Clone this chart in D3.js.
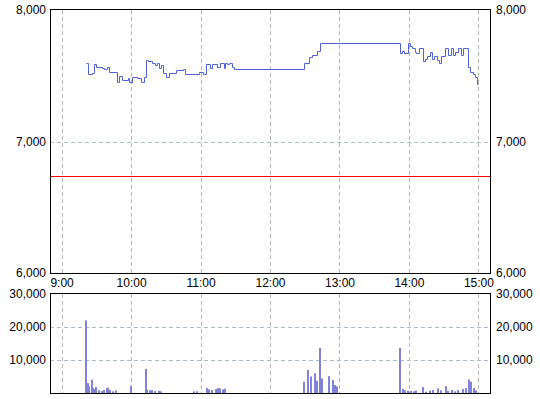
<!DOCTYPE html>
<html>
<head>
<meta charset="utf-8">
<script src="https://cdn.jsdelivr.net/npm/d3@7"></script>
<style>
  html, body { margin: 0; padding: 0; background: #fff; }
  svg { display: block; font-family: "Liberation Sans", Arial, sans-serif; }
</style>
</head>
<body>
<div id="chart"></div>
<script>
// --- data ---
const hourTicks = ["9:00", "10:00", "11:00", "12:00", "13:00", "14:00", "15:00"];
const priceTicks = [6000, 7000, 8000];
const volumeTicks = [10000, 20000, 30000];
const prevClose = 6740;

// [time, price] — step line, each price holds until the next time
const priceSteps = [
  ["9:21", 7600], ["9:23", 7510], ["9:26", 7520], ["9:28", 7590], ["9:30", 7570],
  ["9:35", 7560], ["9:37", 7550], ["9:39", 7570], ["9:41", 7530], ["9:48", 7450],
  ["9:50", 7500], ["9:52", 7470], ["9:57", 7480], ["9:58", 7450], ["10:01", 7490],
  ["10:05", 7480], ["10:09", 7450], ["10:11", 7490], ["10:13", 7620], ["10:15", 7610],
  ["10:18", 7600], ["10:21", 7580], ["10:22", 7600], ["10:24", 7560], ["10:26", 7580],
  ["10:28", 7520], ["10:30", 7490], ["10:33", 7520], ["10:39", 7540], ["10:45", 7550],
  ["10:47", 7510], ["10:59", 7530], ["11:02", 7510], ["11:05", 7590], ["11:08", 7560],
  ["11:10", 7590], ["11:14", 7570], ["11:17", 7600], ["11:20", 7560], ["11:21", 7600],
  ["11:23", 7590], ["11:25", 7600], ["11:27", 7570], ["11:29", 7550], ["12:29", 7600],
  ["12:34", 7640], ["12:36", 7660], ["12:41", 7690], ["12:43", 7750], ["13:52", 7670],
  ["13:54", 7690], ["13:56", 7670], ["13:59", 7750], ["14:01", 7730], ["14:03", 7710],
  ["14:05", 7680], ["14:06", 7670], ["14:09", 7710], ["14:12", 7610], ["14:14", 7630],
  ["14:16", 7650], ["14:18", 7680], ["14:20", 7630], ["14:22", 7650], ["14:24", 7620],
  ["14:26", 7600], ["14:28", 7650], ["14:31", 7710], ["14:34", 7660], ["14:36", 7710],
  ["14:38", 7660], ["14:40", 7680], ["14:42", 7710], ["14:45", 7660], ["14:47", 7710],
  ["14:51", 7570], ["14:53", 7530], ["14:55", 7510], ["14:57", 7490], ["14:59", 7440],
  ["15:00", 7440]
];

// [time, volume]
const volumes = [
  ["9:21", 22000], ["9:23", 3000], ["9:24", 2000], ["9:26", 4000], ["9:27", 1500],
  ["9:28", 1200], ["9:30", 1800], ["9:32", 800], ["9:35", 600], ["9:37", 900],
  ["9:39", 1500], ["9:40", 1600], ["9:42", 900], ["9:44", 500], ["9:47", 800],
  ["10:00", 2100], ["10:13", 7300], ["10:14", 1000], ["10:16", 800], ["10:18", 900],
  ["10:21", 600], ["10:24", 700], ["10:26", 500], ["10:54", 500], ["10:57", 500],
  ["11:06", 1500], ["11:07", 1100], ["11:10", 900], ["11:13", 1200], ["11:15", 1500],
  ["11:17", 1400], ["11:19", 1100], ["11:21", 1300],
  ["12:29", 3400], ["12:33", 7000], ["12:35", 5000], ["12:39", 6000], ["12:41", 3700],
  ["12:43", 13700], ["12:45", 4400], ["12:51", 5100], ["12:54", 3900], ["12:56", 2400],
  ["12:58", 2000],
  ["13:52", 13700], ["13:55", 1200], ["13:57", 800], ["13:59", 700], ["14:02", 600],
  ["14:04", 500], ["14:06", 700], ["14:12", 1800], ["14:15", 400], ["14:18", 700],
  ["14:21", 900], ["14:25", 1400], ["14:28", 800], ["14:32", 2100], ["14:34", 600],
  ["14:37", 900], ["14:40", 500], ["14:42", 900], ["14:47", 1200], ["14:49", 1500],
  ["14:52", 4100], ["14:54", 3400], ["14:56", 1500], ["14:58", 800]
];

const toMin = s => { const [h, m] = s.split(":").map(Number); return h * 60 + m; };

const W = 540, H = 399;
const left = 50, right = 490;
const top1 = 10, bot1 = 273;
const top2 = 294, bot2 = 393;

const svg = d3.select("#chart").append("svg").attr("width", W).attr("height", H);

const x = d3.scaleLinear().domain([toMin("8:50"), toMin("15:10")]).range([left, right]);
const yP = d3.scaleLinear().domain([6000, 8000]).range([bot1, top1]);
const yV = d3.scaleLinear().domain([0, 30000]).range([bot2, top2]);

const gridV = "#b4b4b4", gridH = "#aabbd0";

function panel(y0, y1, yScale, hTicks) {
  const g = svg.append("g");
  g.selectAll(".vg").data(hourTicks).join("line")
    .attr("x1", d => Math.round(x(toMin(d))) + 0.5)
    .attr("x2", d => Math.round(x(toMin(d))) + 0.5)
    .attr("y1", y0).attr("y2", y1)
    .attr("stroke", gridV).attr("stroke-dasharray", "4,3");
  g.selectAll(".hg").data(hTicks).join("line")
    .attr("x1", left).attr("x2", right)
    .attr("y1", d => Math.round(yScale(d)) + 0.5)
    .attr("y2", d => Math.round(yScale(d)) + 0.5)
    .attr("stroke", gridH).attr("stroke-dasharray", "4,3");
  return g;
}

// --- price panel ---
panel(top1, bot1, yP, [7000]);

svg.append("line")
  .attr("x1", left).attr("x2", right)
  .attr("y1", Math.round(yP(prevClose)) + 0.5).attr("y2", Math.round(yP(prevClose)) + 0.5)
  .attr("stroke", "#ff0000");

const line = d3.line()
  .x(d => Math.round(x(toMin(d[0]))) + 0.5)
  .y(d => Math.round(yP(d[1])) + 0.5)
  .curve(d3.curveStepAfter);

svg.append("path")
  .datum(priceSteps)
  .attr("d", line)
  .attr("fill", "none")
  .attr("stroke", "#4f62d9")
  .attr("stroke-width", 1);

// --- volume panel ---
panel(top2, bot2, yV, [10000, 20000]);

svg.selectAll(".bar").data(volumes).join("rect")
  .attr("x", d => Math.round(x(toMin(d[0]))) - 1)
  .attr("width", 2)
  .attr("y", d => yV(d[1]))
  .attr("height", d => bot2 - yV(d[1]))
  .attr("fill", "#7f82d6");

// frames
svg.append("rect").attr("x", left + 0.5).attr("y", top1 - 0.5)
  .attr("width", right - left).attr("height", bot1 - top1 + 1)
  .attr("fill", "none").attr("stroke", "#000");
svg.append("rect").attr("x", left + 0.5).attr("y", top2 - 0.5)
  .attr("width", right - left).attr("height", bot2 - top2 + 1)
  .attr("fill", "none").attr("stroke", "#000");

// --- axes ---
const fmt = d3.format(",");
function styleAxis(ax) {
  ax.select(".domain").remove();
  ax.selectAll("text").attr("font-size", 12).attr("fill", "#000");
}

svg.append("g").attr("transform", `translate(${left},0)`)
  .call(d3.axisLeft(yP).tickValues(priceTicks).tickFormat(fmt).tickSize(0).tickPadding(4))
  .call(styleAxis);
svg.append("g").attr("transform", `translate(${right},0)`)
  .call(d3.axisRight(yP).tickValues(priceTicks).tickFormat(fmt).tickSize(0).tickPadding(6))
  .call(styleAxis);
svg.append("g").attr("transform", `translate(${left},0)`)
  .call(d3.axisLeft(yV).tickValues(volumeTicks).tickFormat(fmt).tickSize(0).tickPadding(4))
  .call(styleAxis);
svg.append("g").attr("transform", `translate(${right},0)`)
  .call(d3.axisRight(yV).tickValues(volumeTicks).tickFormat(fmt).tickSize(0).tickPadding(6))
  .call(styleAxis);

svg.append("g").attr("transform", `translate(0,${bot1})`)
  .call(d3.axisBottom(x).tickValues(hourTicks.map(toMin))
    .tickFormat((d, i) => hourTicks[i]).tickSize(0).tickPadding(5))
  .call(styleAxis);
</script>
</body>
</html>
